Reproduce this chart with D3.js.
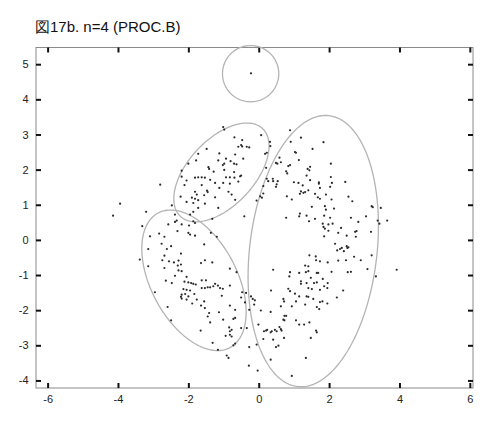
<!DOCTYPE html>
<html><head><meta charset="utf-8">
<script src="https://cdn.jsdelivr.net/npm/d3@7"></script>
<style>body{margin:0;background:#fff} svg{display:block}</style>
</head><body><svg id="c" width="492" height="427"></svg>
<script>
const title = "図17b. n=4 (PROC.B)";
const xTicks = [-6,-4,-2,0,2,4,6];
const yTicks = [-4,-3,-2,-1,0,1,2,3,4,5];

// cluster points [x, y] in data units
const groupA = [[-1.01,3.21],[-0.98,3.14],[-0.69,2.92],[-0.47,2.84],[0.07,2.98],[0.32,2.79],[0.33,2.67],[-0.58,2.65],[-0.50,2.70],[-0.47,2.66],[-0.34,2.65],[-0.27,2.63],[-1.48,2.59],[-1.12,2.46],[-0.67,2.43],[-1.72,2.45],[-0.44,2.31],[-0.93,2.31],[-1.15,2.26],[-1.78,2.26],[-0.80,2.24],[-0.70,2.17],[-0.98,2.17],[-1.02,2.13],[-0.63,2.15],[-1.43,2.07],[-1.41,2.02],[-2.00,2.17],[-2.19,1.97],[-1.28,1.94],[-0.98,1.99],[-0.70,1.93],[-0.53,1.81],[-0.50,1.83],[-0.93,1.78],[-0.82,1.78],[-0.69,1.77],[-1.81,1.77],[-1.72,1.78],[-1.62,1.78],[-1.53,1.77],[-2.19,1.80],[-2.05,1.69],[-1.38,1.71],[-1.24,1.62],[-1.01,1.62],[-0.82,1.60],[-0.58,1.66],[-1.62,1.56],[-2.11,1.56],[-2.80,1.57],[-1.12,1.48],[-1.47,1.40],[-1.45,1.36],[-1.81,1.37],[-1.76,1.29],[-0.86,1.37],[-0.77,1.29],[-2.22,1.23],[-1.55,1.27],[-1.90,1.20],[-1.81,1.17],[-1.72,1.13],[-1.24,1.21],[-0.67,1.14],[-1.86,1.05],[-1.53,1.03],[-2.05,1.08],[-1.72,0.91],[-1.15,0.91],[-3.20,0.80],[-2.38,0.72],[-1.95,0.72],[-1.86,0.80],[-2.38,0.51],[-2.33,0.55],[-1.86,0.53],[-1.81,0.48],[-3.31,0.39],[-0.41,0.67],[-2.57,0.44],[-1.98,0.41],[-1.32,0.60],[-2.19,0.44],[-2.47,0.98]];

const groupB = [[-2.83,0.18],[-2.31,0.25],[-2.00,0.20],[-1.95,0.15],[-1.81,0.12],[-1.36,0.20],[-1.19,0.09],[-3.09,0.10],[-2.68,0.09],[-2.76,-0.11],[-2.49,-0.18],[-1.55,-0.13],[-2.61,-0.26],[-3.14,-0.26],[-2.21,-0.39],[-2.68,-0.45],[-2.74,-0.58],[-2.55,-0.61],[-2.41,-0.64],[-2.28,-0.59],[-3.38,-0.56],[-1.53,-0.58],[-1.64,-0.66],[-1.32,-0.64],[-2.30,-0.73],[-2.21,-0.70],[-3.14,-0.75],[-2.68,-0.80],[-2.28,-0.87],[-2.19,-0.89],[-0.82,-0.82],[-0.63,-0.92],[-2.38,-1.02],[-2.05,-1.05],[-2.64,-1.16],[-1.62,-1.15],[-1.50,-1.15],[-2.11,-1.19],[-2.00,-1.21],[-1.92,-1.23],[-2.47,-1.23],[-1.86,-1.25],[-1.79,-1.27],[-1.24,-1.25],[-1.16,-1.30],[-0.82,-1.30],[-2.14,-1.40],[-2.05,-1.42],[-1.95,-1.44],[-1.62,-1.37],[-1.53,-1.37],[-1.45,-1.35],[-1.38,-1.35],[-1.29,-1.32],[-1.10,-1.37],[-1.02,-1.39],[-2.95,-1.49],[-2.19,-1.56],[-2.09,-1.54],[-2.00,-1.61],[-1.83,-1.54],[-2.21,-1.62],[-2.19,-1.67],[-1.05,-1.59],[-0.47,-1.49],[-1.76,-1.70],[-2.05,-1.70],[-1.55,-1.75],[-1.89,-1.81],[-0.50,-1.64],[-0.82,-1.87],[-1.64,-1.87],[-2.59,-1.91],[-1.53,-1.94],[-1.41,-2.08],[-0.67,-1.99],[-1.45,-2.18],[-1.13,-2.06],[-0.67,-2.22],[-0.72,-2.25],[-2.49,-2.29],[-1.01,-2.27],[-1.38,-2.35],[-0.84,-2.49],[-0.77,-2.56],[-0.82,-2.60],[-1.65,-2.58],[-0.50,-2.51],[-0.94,-2.73],[-0.82,-2.70],[-0.77,-2.75],[-0.67,-2.95],[-0.72,-3.00],[-1.31,-2.93],[-1.16,-3.13],[-0.91,-3.29],[-0.86,-3.36]];

const groupC = [[0.89,3.12],[1.20,2.91],[0.91,2.79],[1.84,2.78],[1.53,2.59],[0.18,2.45],[0.23,2.48],[1.03,2.50],[1.06,2.48],[0.59,2.34],[0.63,2.21],[0.49,2.19],[0.53,2.17],[1.14,2.27],[0.84,2.10],[0.89,2.13],[0.21,2.05],[1.39,2.02],[1.44,1.98],[1.46,2.08],[2.05,2.17],[0.78,1.95],[0.81,1.89],[1.36,1.83],[2.05,1.79],[0.23,1.74],[0.40,1.74],[0.41,1.67],[0.54,1.67],[1.00,1.64],[1.13,1.62],[1.71,1.64],[1.71,1.60],[1.46,1.70],[2.08,1.62],[2.46,1.65],[1.25,1.55],[0.13,1.53],[0.49,1.51],[1.74,1.48],[2.03,1.51],[1.20,1.38],[1.27,1.34],[1.32,1.36],[1.41,1.41],[1.60,1.31],[1.17,1.31],[0.04,1.24],[0.09,1.20],[0.80,1.24],[0.94,1.15],[2.55,1.23],[2.66,1.10],[1.68,1.21],[1.74,1.17],[1.91,1.29],[-0.06,1.12],[2.07,1.15],[1.51,0.94],[1.88,0.96],[1.91,0.86],[2.14,0.89],[3.21,0.96],[3.24,0.93],[3.47,0.91],[1.17,0.75],[1.15,0.67],[0.78,0.63],[1.36,0.69],[1.60,0.60],[1.86,0.69],[2.03,0.63],[2.62,0.63],[3.05,0.67],[3.38,0.55],[3.43,0.46],[3.65,0.55],[1.43,0.53],[1.82,0.46],[2.83,0.51],[1.84,0.37],[1.88,0.32],[1.98,0.44],[2.10,0.46],[2.34,0.34],[2.74,0.23],[2.78,0.25],[3.19,0.23],[2.26,0.20],[1.98,0.26],[1.86,0.10],[2.50,0.12],[2.76,0.09],[2.17,-0.11],[2.23,-0.30],[2.31,-0.26],[2.36,-0.23],[2.50,-0.18],[2.52,-0.23],[2.55,-0.21],[2.42,-0.32],[3.21,-0.44],[2.71,-0.48],[1.44,-0.44],[1.62,-0.47],[1.63,-0.58],[1.74,-0.61],[1.32,-0.73],[1.41,-0.75],[1.96,-0.64],[2.26,-0.59],[2.48,-0.58],[2.90,-0.58],[3.09,-0.83],[1.34,-0.92],[1.41,-0.89],[1.65,-0.94],[1.69,-0.94],[0.89,-0.92],[1.15,-0.94],[1.48,-1.08],[1.57,-1.23],[1.65,-1.21],[2.07,-0.91],[2.53,-0.92],[2.62,-0.91],[3.33,-1.04],[0.41,-0.85],[0.87,-1.04],[1.20,-1.18],[1.20,-1.25],[1.36,-1.23],[1.82,-1.11],[1.96,-1.23],[0.84,-1.39],[0.89,-1.46],[1.03,-1.53],[1.41,-1.37],[1.51,-1.40],[1.74,-1.42],[1.86,-1.32],[1.95,-1.37],[2.40,-1.44],[0.35,-1.44],[0.70,-1.68],[0.72,-1.75],[1.06,-1.75],[1.15,-1.61],[1.36,-1.61],[1.41,-1.62],[1.55,-1.68],[1.74,-1.77],[1.81,-1.75],[2.22,-1.64],[0.63,-1.89],[0.94,-1.89],[1.32,-1.84],[1.65,-1.91],[1.72,-1.97],[1.95,-1.81],[0.78,-2.16],[0.73,-2.16],[0.70,-2.27],[0.73,-2.29],[1.06,-2.29],[1.15,-2.41],[1.29,-2.41],[1.44,-2.35],[0.06,-2.01],[0.34,-2.05],[-0.01,-2.41],[0.24,-2.56],[0.21,-2.58],[0.37,-2.60],[0.34,-2.63],[0.46,-2.56],[0.59,-2.48],[0.63,-2.54],[0.65,-2.58],[0.15,-2.60],[0.51,-2.60],[0.72,-2.79],[1.63,-2.58],[1.65,-2.63],[1.48,-2.79],[0.13,-2.82],[0.41,-2.84],[0.49,-3.05],[0.56,-3.01],[-0.06,-2.98],[-0.27,-3.05],[0.34,-3.41],[1.34,-3.36],[-0.28,-3.58],[-0.03,-3.72],[0.94,-3.87],[-0.34,-2.51],[-0.27,-1.99],[-0.39,-1.78],[-0.17,-1.68],[-0.11,-1.72],[-0.13,-1.84],[-0.36,-1.51],[-0.22,-1.61],[0.27,1.67],[0.51,1.58],[0.13,1.32],[3.92,-0.85]];

const groupD = [[-0.22,4.74]];
const outliers = [[-4.14,0.69],[-3.94,1.03]];

// fitted ellipses (data units): centre, semi-axes, rotation in degrees
const ellCx = [-0.23, -1.06, -1.84, 1.55];
const ellCy = [4.73, 1.92, -1.15, -0.32];
const ellA = [0.80, 1.71, 2.17, 3.88];
const ellB = [0.80, 0.94, 1.22, 1.81];
const ellAngle = [0, 47, -62, 83.4];

const svg = d3.select("#c");
const m = {l:36, r:473, t:47.5, b:388};
const x = d3.scaleLinear().domain([-6.33, 6.09]).range([m.l, m.r]);
const y = d3.scaleLinear().domain([-4.215, 5.475]).range([m.b, m.t]);
const font = "'Liberation Sans', Arial, Helvetica, sans-serif";

svg.append("text").attr("x", 35).attr("y", 32)
  .attr("font-family", font).attr("font-size", 15).attr("fill", "#111")
  .text(title);

svg.append("rect").attr("x", m.l).attr("y", m.t)
  .attr("width", m.r - m.l).attr("height", m.b - m.t)
  .attr("fill", "none").attr("stroke", "#8a8a8a").attr("stroke-width", 1);

function styleAxis(g) {
  g.select(".domain").remove();
  g.selectAll(".tick line").attr("stroke", "#111").attr("stroke-width", 2);
  g.selectAll(".tick text").attr("font-family", font).attr("font-size", 11).attr("fill", "#222");
}
const fmt = d => String(d);
svg.append("g").attr("transform", `translate(0,${m.b})`)
  .call(d3.axisBottom(x).tickValues(xTicks).tickSizeInner(-5).tickSizeOuter(0).tickPadding(7).tickFormat(fmt))
  .call(styleAxis);
svg.append("g").attr("transform", `translate(0,${m.t})`)
  .call(d3.axisTop(x).tickValues(xTicks).tickSizeInner(-5).tickSizeOuter(0).tickFormat(""))
  .call(styleAxis);
svg.append("g").attr("transform", `translate(${m.l},0)`)
  .call(d3.axisLeft(y).tickValues(yTicks).tickSizeInner(-5).tickSizeOuter(0).tickPadding(7.5).tickFormat(fmt))
  .call(styleAxis);
svg.append("g").attr("transform", `translate(${m.r},0)`)
  .call(d3.axisRight(y).tickValues(yTicks).tickSizeInner(-5).tickSizeOuter(0).tickFormat(""))
  .call(styleAxis);

// ellipses
const line = d3.line().x(p => x(p[0])).y(p => y(p[1])).curve(d3.curveLinearClosed);
ellCx.forEach((cx, i) => {
  const th = ellAngle[i] * Math.PI / 180;
  const pts = d3.range(0, 2 * Math.PI, Math.PI / 90).map(t => [
    cx + ellA[i] * Math.cos(th) * Math.cos(t) - ellB[i] * Math.sin(th) * Math.sin(t),
    ellCy[i] + ellA[i] * Math.sin(th) * Math.cos(t) + ellB[i] * Math.cos(th) * Math.sin(t)
  ]);
  svg.append("path").attr("d", line(pts)).attr("fill", "none")
    .attr("stroke", "#b4b4b4").attr("stroke-width", 1.3);
});

// points
const all = [].concat(groupA, groupB, groupC, groupD, outliers);
svg.append("g").selectAll("circle").data(all).join("circle")
  .attr("cx", d => x(d[0])).attr("cy", d => y(d[1]))
  .attr("r", 1.1).attr("fill", "#2a2a2a");
</script>
</body></html>
